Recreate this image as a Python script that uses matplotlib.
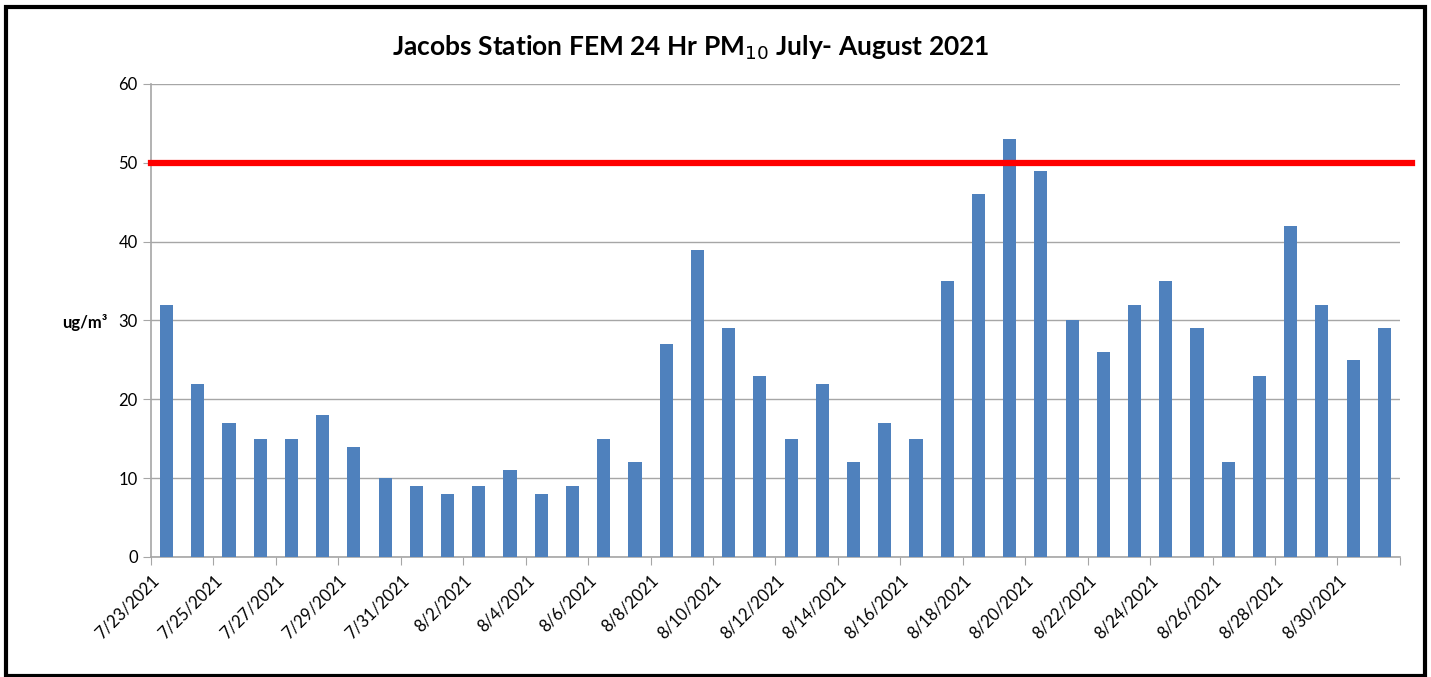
import matplotlib
matplotlib.use("Agg")
import matplotlib.pyplot as plt
from matplotlib.patches import Rectangle

# datos
fechas = ["7/23/2021", "7/24/2021", "7/25/2021", "7/26/2021", "7/27/2021", "7/28/2021",
          "7/29/2021", "7/30/2021", "7/31/2021", "8/1/2021", "8/2/2021", "8/3/2021",
          "8/4/2021", "8/5/2021", "8/6/2021", "8/7/2021", "8/8/2021", "8/9/2021",
          "8/10/2021", "8/11/2021", "8/12/2021", "8/13/2021", "8/14/2021", "8/15/2021",
          "8/16/2021", "8/17/2021", "8/18/2021", "8/19/2021", "8/20/2021", "8/21/2021",
          "8/22/2021", "8/23/2021", "8/24/2021", "8/25/2021", "8/26/2021", "8/27/2021",
          "8/28/2021", "8/29/2021", "8/30/2021", "8/31/2021"]
pm10 = [32, 22, 17, 15, 15, 18, 14, 10, 9, 8, 9, 11, 8, 9, 15, 12, 27, 39, 29, 23,
        15, 22, 12, 17, 15, 35, 46, 53, 49, 30, 26, 32, 35, 29, 12, 23, 42, 32, 25, 29]
estandar = 50

plt.rcParams['font.family'] = ['Lato', 'DejaVu Sans']

fig = plt.figure(figsize=(14.31, 6.77), dpi=100)
ax = fig.add_axes([0.1055, 0.1773, 0.8728, 0.6987])

x = list(range(len(fechas)))
ax.bar(x, pm10, width=0.42, color="#4F81BD", zorder=3)
ax.axhline(estandar, xmin=0, xmax=1.0095, color="#FF0000", lw=4.5, clip_on=False, zorder=4)

ax.set_xlim(-0.5, len(fechas) - 0.5)
ax.set_ylim(0, 60)
ax.set_yticks(range(0, 61, 10))
ax.yaxis.grid(True, color="#a6a6a6", lw=1, zorder=0)

# ticks en los bordes de categoria, etiqueta cada dos dias
ax.set_xticks([i - 0.5 for i in range(0, len(fechas) + 1, 2)])
ax.set_xticklabels(fechas[::2] + [""], rotation=45, ha="right", rotation_mode="anchor")

for s in ["top", "right"]:
    ax.spines[s].set_visible(False)
for s in ["left", "bottom"]:
    ax.spines[s].set_color("#a6a6a6")
    ax.spines[s].set_linewidth(1.2)
ax.tick_params(axis="both", colors="#a6a6a6", labelcolor="black", labelsize=12, length=6)
ax.tick_params(axis="x", pad=5)

fig.text(0.483, 0.93, "Jacobs Station FEM 24 Hr PM$_{10}$ July- August 2021",
         ha="center", va="center", fontsize=19, fontweight="bold")
fig.text(0.075, 0.524, "ug/m³", ha="right", va="center", fontsize=12, fontweight="bold")

# marco negro alrededor
fig.patches.append(Rectangle((6.5 / 1431, 1 / 677), 1418 / 1431, 669 / 677, transform=fig.transFigure,
                             fill=False, edgecolor="black", lw=3))

fig.savefig("out.png", dpi=100)
